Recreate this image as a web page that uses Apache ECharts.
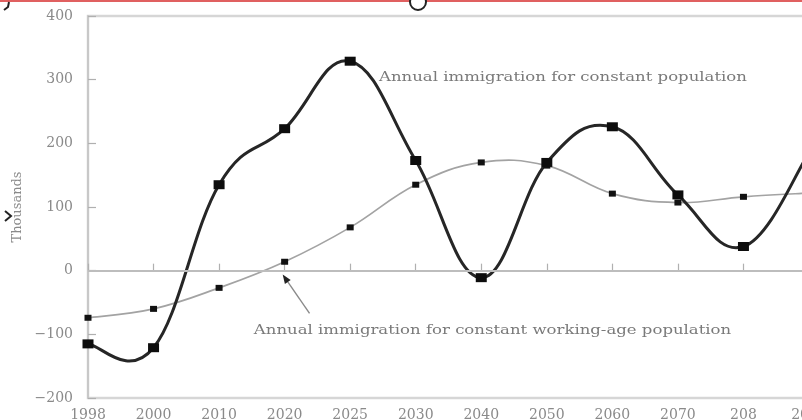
<!DOCTYPE html>
<html>
<head>
<meta charset="utf-8">
<script src="https://cdn.jsdelivr.net/npm/echarts@6/dist/echarts.min.js"></script>
<style>
  html, body { margin: 0; padding: 0; background: #fff; }
  #chart { width: 802px; height: 420px; }
</style>
</head>
<body>
<div id="chart"></div>
<script>
// Years along the horizontal axis
const years = ['1998', '2000', '2010', '2020', '2025', '2030', '2040', '2050', '2060', '2070', '208', '2090'];
// Annual immigration needed to keep the total population constant (thousands)
const constantPopulation = [-115, -121, 135, 223, 329, 173, -11, 170, 226, 119, 38, 185];
// Annual immigration needed to keep the working-age population constant (thousands)
const constantWorkingAge = [-74, -60, -27, 14, 68, 135, 170, 165, 121, 107, 116, 122];
// Vertical axis range and step
const yMin = -200, yMax = 400, yStep = 100;

const serif = '"DejaVu Serif", "Liberation Serif", serif';
const labelGrey = '#8a8a8a';

// Smooth curve through the points: each segment is a cubic Bezier whose
// control points follow the neighbouring points (Catmull-Rom style).
const TENSION = 0.2;
function splineSeries(values, color, width, z) {
  const n = values.length;
  return {
    type: 'custom',
    silent: true,
    clip: false,
    z: z,
    data: values.slice(0, n - 1).map((_, i) => [i, values[i]]),
    renderItem: function (params, api) {
      const i = params.dataIndex;
      const P = j => {
        const k = Math.max(0, Math.min(n - 1, j));
        return api.coord([k, values[k]]);
      };
      const p0 = P(i - 1), p1 = P(i), p2 = P(i + 1), p3 = P(i + 2);
      return {
        type: 'bezierCurve',
        shape: {
          x1: p1[0], y1: p1[1],
          x2: p2[0], y2: p2[1],
          cpx1: p1[0] + (p2[0] - p0[0]) * TENSION,
          cpy1: p1[1] + (p2[1] - p0[1]) * TENSION,
          cpx2: p2[0] - (p3[0] - p1[0]) * TENSION,
          cpy2: p2[1] - (p3[1] - p1[1]) * TENSION
        },
        style: { stroke: color, lineWidth: width, fill: null, lineCap: 'round' }
      };
    }
  };
}

const chart = echarts.init(document.getElementById('chart'), null, { renderer: 'canvas' });

chart.setOption({
  backgroundColor: '#fff',
  animation: false,
  grid: {
    left: 88, top: 16, bottom: 22, right: -7,
    outerBoundsMode: 'none',
    containLabel: false,
    show: true, borderColor: '#d6d6d6', borderWidth: 2.5, backgroundColor: 'transparent'
  },
  xAxis: {
    type: 'category',
    data: years,
    boundaryGap: false,
    axisLine: { lineStyle: { color: '#c8c8c8', width: 2 } },
    axisTick: { inside: true, length: 7, lineStyle: { color: '#b0b0b0', width: 1.2 } },
    axisLabel: { color: labelGrey, fontFamily: serif, fontSize: 14, margin: 10, interval: 0 },
    splitLine: { show: false }
  },
  yAxis: {
    type: 'value',
    min: yMin, max: yMax, interval: yStep,
    name: 'Thousands',
    nameLocation: 'middle',
    nameGap: 63,
    nameRotate: 90,
    nameTextStyle: { color: labelGrey, fontFamily: serif, fontSize: 13 },
    axisLine: { show: true, lineStyle: { color: '#c8c8c8', width: 2 } },
    axisTick: { show: true, inside: true, length: 8, lineStyle: { color: '#b0b0b0', width: 1.2 } },
    axisLabel: {
      color: labelGrey, fontFamily: serif, fontSize: 14, margin: 15,
      formatter: v => String(v).replace('-', '\u2212')
    },
    splitLine: { show: false }
  },
  series: [
    splineSeries(constantWorkingAge, '#a3a3a3', 1.7, 2),
    splineSeries(constantPopulation, '#262626', 3, 3),
    {
      name: 'Annual immigration for constant working-age population',
      type: 'scatter',
      data: constantWorkingAge.map((v, i) => [i, v]),
      symbol: 'rect',
      symbolSize: [7, 6],
      itemStyle: { color: '#111', opacity: 1 },
      markLine: {
        silent: true,
        symbol: 'none',
        label: { show: false },
        lineStyle: { color: '#bdbdbd', width: 2, type: 'solid' },
        data: [{ yAxis: 0 }]
      },
      z: 4
    },
    {
      name: 'Annual immigration for constant population',
      type: 'scatter',
      data: constantPopulation.map((v, i) => [i, v]),
      symbol: 'rect',
      symbolSize: [11, 9],
      itemStyle: { color: '#0d0d0d', opacity: 1 },
      z: 5
    }
  ]
});

// Annotations placed in data space so they follow the axes;
// fractional category positions are interpolated between neighbours.
function px(pos, v) {
  const i = Math.floor(pos), f = pos - i;
  const a = chart.convertToPixel({ gridIndex: 0 }, [i, v]);
  const b = chart.convertToPixel({ gridIndex: 0 }, [i + 1, v]);
  return [a[0] + (b[0] - a[0]) * f, a[1]];
}
const tip = px(2.97, -6);
const tail = px(3.38, -67);
const t1 = px(4.44, 303);
const t2 = px(2.53, -94);
const ang = Math.atan2(tail[1] - tip[1], tail[0] - tip[0]);
const ah = 9, aw = 3.5;
const base = [tip[0] + Math.cos(ang) * ah, tip[1] + Math.sin(ang) * ah];
const nx = -Math.sin(ang) * aw, ny = Math.cos(ang) * aw;

chart.setOption({
  graphic: [
    {
      type: 'text', x: t1[0], y: t1[1], scaleX: 1.27,
      style: { text: 'Annual immigration for constant population', font: '13px ' + serif, fill: '#7a7a7a', verticalAlign: 'middle' }
    },
    {
      type: 'text', x: t2[0], y: t2[1], scaleX: 1.27,
      style: { text: 'Annual immigration for constant working-age population', font: '13px ' + serif, fill: '#7a7a7a', verticalAlign: 'middle' }
    },
    {
      type: 'line',
      shape: { x1: base[0], y1: base[1], x2: tail[0], y2: tail[1] },
      style: { stroke: '#8a8a8a', lineWidth: 1.4 }
    },
    {
      type: 'polygon',
      shape: { points: [tip, [base[0] + nx, base[1] + ny], [base[0] - nx, base[1] - ny]] },
      style: { fill: '#222' }
    },
    // thin red rule along the top edge
    { type: 'rect', shape: { x: 0, y: 0, width: 802, height: 2 }, style: { fill: '#e06060' } },
    // small ring at the top edge
    { type: 'circle', shape: { cx: 418, cy: 2, r: 8 }, style: { fill: '#fff', stroke: '#222', lineWidth: 2 } },
    // corner bracket and side chevron
    { type: 'polyline', shape: { points: [[9, 2], [8, 7], [4, 10]] }, style: { stroke: '#222', lineWidth: 2, fill: null } },
    { type: 'polyline', shape: { points: [[5, 211], [11, 216], [5, 221]] }, style: { stroke: '#222', lineWidth: 2, fill: null } }
  ]
});
</script>
</body>
</html>
